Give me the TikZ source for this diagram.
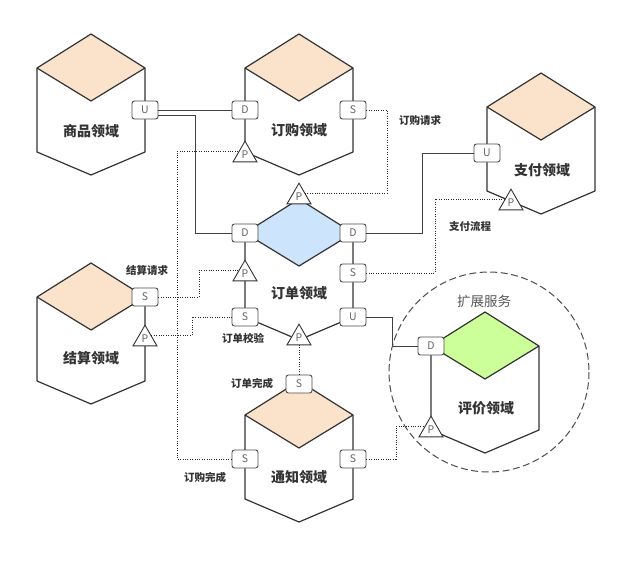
\documentclass[tikz,border=0pt]{standalone}
\usepackage{fontspec}
\setmainfont{Noto Sans CJK SC}
\usetikzlibrary{shapes.geometric}
\definecolor{peach}{RGB}{251,226,202}
\definecolor{orderblue}{RGB}{204,228,252}
\definecolor{evalgreen}{RGB}{204,255,153}
\definecolor{ink}{RGB}{51,51,51}
\begin{document}
\begin{tikzpicture}[x=1pt,y=-1pt]
	\tikzstyle{every node}+=[inner sep=0pt]
	\tikzstyle{hexline}=[ink, line width=1.2pt, line join=round]
	\tikzstyle{port}=[draw=black!70, fill=white, line width=0.9pt, rounded corners=2.5pt, minimum width=26pt, minimum height=18pt, font=\fontsize{10.5}{10.5}\selectfont\color{black!60}]
	\tikzstyle{tri}=[draw=black!80, fill=white, line width=0.9pt, regular polygon, regular polygon sides=3, minimum size=27.7pt, font=\fontsize{10.5}{10.5}\selectfont\color{black!60}]
	\tikzstyle{domname}=[font=\fontsize{14}{14}\selectfont\bfseries, ink]
	\tikzstyle{flowname}=[font=\fontsize{10.5}{10.5}\selectfont\bfseries, ink]
	\tikzstyle{solidlink}=[black!75, line width=1pt]
	\tikzstyle{msglink}=[black!85, line width=1pt, dash pattern=on 1pt off 1.4pt]
	\useasboundingbox (0,0) rectangle (640,565);
	\fill [white] (0,0) rectangle (640,565);
	\draw [black!70, line width=1pt, dash pattern=on 7pt off 3.5pt] (489,372) circle (100);
	\draw (484,301) node [font=\fontsize{13.5}{13.5}\selectfont, black!65] (extra) {扩展服务};
	\fill [peach] (91,34) -- (37,68) -- (91,101) -- (145,68) -- cycle;
	\draw [hexline] (91,34) -- (37,68) -- (37,152) -- (91,175) -- (145,152) -- (145,68) -- cycle;
	\draw [hexline] (37,68) -- (91,101) -- (145,68);
	\draw (91,131) node [domname] (goods) {商品领域};
	\fill [peach] (299,34) -- (245,68) -- (299,101) -- (353,68) -- cycle;
	\draw [hexline] (299,34) -- (245,68) -- (245,152) -- (299,175) -- (353,152) -- (353,68) -- cycle;
	\draw [hexline] (245,68) -- (299,101) -- (353,68);
	\draw (299,130) node [domname] (purch) {订购领域};
	\fill [peach] (541,73) -- (487,107) -- (541,140) -- (595,107) -- cycle;
	\draw [hexline] (541,73) -- (487,107) -- (487,191) -- (541,214) -- (595,191) -- (595,107) -- cycle;
	\draw [hexline] (487,107) -- (541,140) -- (595,107);
	\draw (542,170) node [domname] (pay) {支付领域};
	\fill [orderblue] (299,199) -- (245,233) -- (299,266) -- (353,233) -- cycle;
	\draw [hexline] (299,199) -- (245,233) -- (245,317) -- (299,340) -- (353,317) -- (353,233) -- cycle;
	\draw [hexline] (245,233) -- (299,266) -- (353,233);
	\draw (299,293) node [domname] (order) {订单领域};
	\fill [peach] (91,263) -- (37,297) -- (91,330) -- (145,297) -- cycle;
	\draw [hexline] (91,263) -- (37,297) -- (37,381) -- (91,404) -- (145,381) -- (145,297) -- cycle;
	\draw [hexline] (37,297) -- (91,330) -- (145,297);
	\draw (91,358) node [domname] (settle) {结算领域};
	\fill [peach] (299,381) -- (245,415) -- (299,448) -- (353,415) -- cycle;
	\draw [hexline] (299,381) -- (245,415) -- (245,499) -- (299,522) -- (353,499) -- (353,415) -- cycle;
	\draw [hexline] (245,415) -- (299,448) -- (353,415);
	\draw (299,477) node [domname] (notify) {通知领域};
	\fill [evalgreen] (485,312) -- (431,346) -- (485,379) -- (539,346) -- cycle;
	\draw [hexline] (485,312) -- (431,346) -- (431,430) -- (485,453) -- (539,430) -- (539,346) -- cycle;
	\draw [hexline] (431,346) -- (485,379) -- (539,346);
	\draw (486,408) node [domname] (eval) {评价领域};
	\node [port] (uGoods) at (145,110) {U};
	\node [port] (dPurch) at (245,110) {D};
	\node [port] (sPurch) at (353,110) {S};
	\node [tri] (pPurch) at (245,155) {P};
	\node [port] (uPay) at (487,153) {U};
	\node [tri] (pPay) at (511,203) {P};
	\node [tri] (pOrdT) at (299,197) {P};
	\node [port] (dOrdL) at (245,233) {D};
	\node [port] (dOrdR) at (353,233) {D};
	\node [tri] (pOrdL) at (245,274) {P};
	\node [port] (sOrdR) at (353,273) {S};
	\node [port] (sOrdL) at (245,317) {S};
	\node [port] (uOrd) at (353,317) {U};
	\node [tri] (pOrdB) at (299,338) {P};
	\node [port] (sSettle) at (145,297) {S};
	\node [tri] (pSettle) at (145,339) {P};
	\node [port] (sNotT) at (299,384) {S};
	\node [port] (sNotL) at (245,459) {S};
	\node [port] (sNotR) at (353,459) {S};
	\node [port] (dEval) at (431,346) {D};
	\node [tri] (pEval) at (431,430) {P};
	\draw [solidlink] (uGoods.east) -- (dPurch);
	\draw [solidlink] ([yshift=-5.5pt]uGoods.east) -- (195,115.5) |- (dOrdL);
	\draw [solidlink] (dOrdR) -- (422,233) |- (uPay);
	\draw [solidlink] (uOrd) -- (392,317) |- (dEval);
	\draw [msglink] (sPurch) -- (387,110) |- (pOrdT.side 3);
	\draw [msglink] (pPay.side 1) -| (435,273) -- (sOrdR);
	\draw [msglink] (sSettle) -- (199,297) |- (pOrdL.side 1);
	\draw [msglink] (pSettle.side 3) -| (192,317) -- (sOrdL);
	\draw [msglink] (sNotT) -- (pOrdB);
	\draw [msglink] (sNotL) -- (177,459) |- (pPurch.side 1);
	\draw [msglink] (sNotR) -- (396,459) |- (pEval.side 1);
	\draw (420,120) node [flowname] (reqPurch) {订购请求};
	\draw (470,227) node [flowname] (flowPay) {支付流程};
	\draw (147,270) node [flowname] (reqSettle) {结算请求};
	\draw (243,338) node [flowname] (check) {订单校验};
	\draw (252,383) node [flowname] (done) {订单完成};
	\draw (205,477) node [flowname] (purchDone) {订购完成};
\end{tikzpicture}
\end{document}
